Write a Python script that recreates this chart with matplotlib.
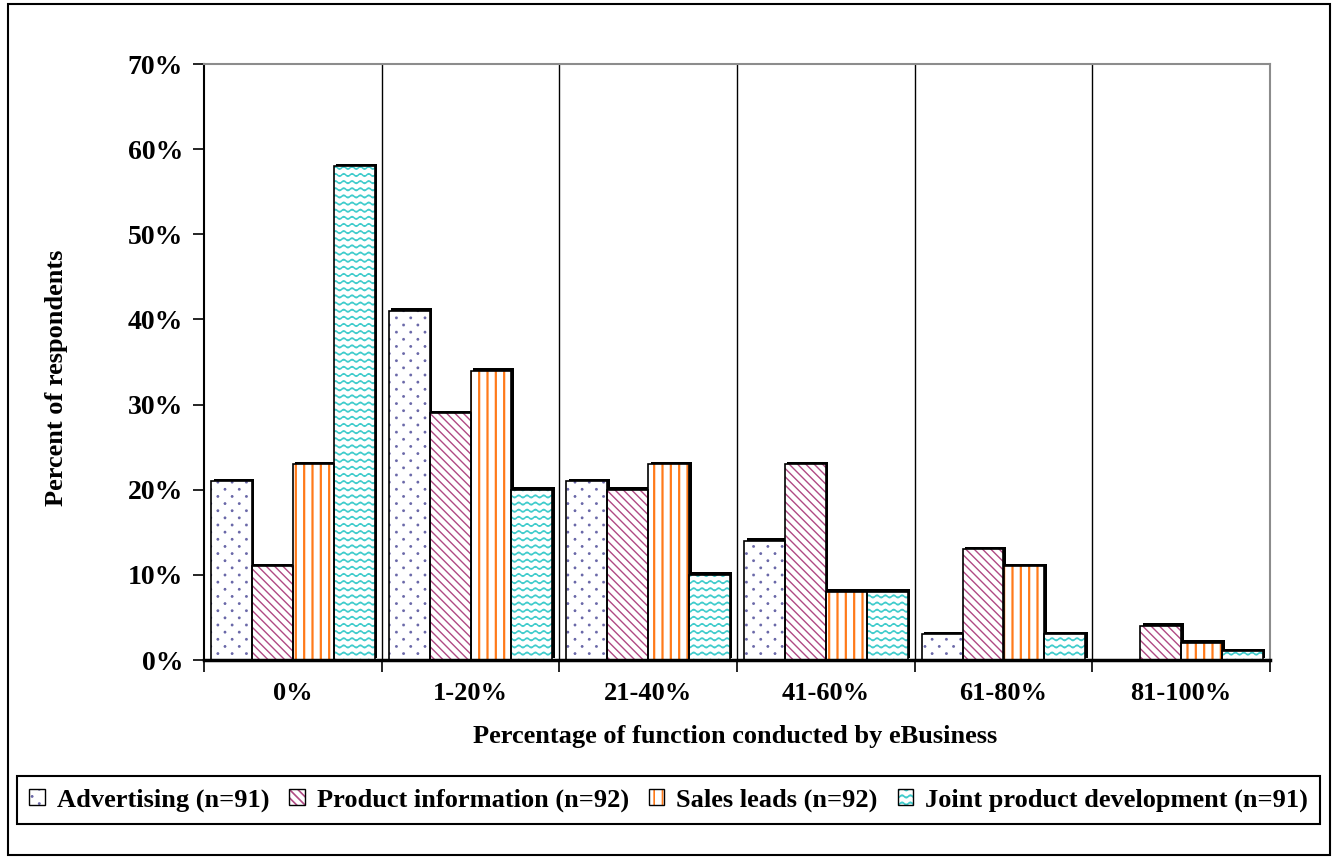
import warnings
import numpy as np
import matplotlib
matplotlib.use('Agg')
import matplotlib.pyplot as plt
from matplotlib import hatch as mhatch
from matplotlib.path import Path
from matplotlib.patches import Patch, Rectangle
from matplotlib.legend_handler import HandlerTuple
import matplotlib.patheffects as pe

warnings.filterwarnings('ignore')

categories = ['0%', '1-20%', '21-40%', '41-60%', '61-80%', '81-100%']
series = ['Advertising (n=91)', 'Product information (n=92)',
          'Sales leads (n=92)', 'Joint product development (n=91)']
advertising = [21, 41, 21, 14, 3, 0]
product_info = [11, 29, 20, 23, 13, 4]
sales_leads = [23, 34, 23, 8, 11, 2]
joint_dev = [58, 20, 10, 8, 3, 1]
yticks = [0, 10, 20, 30, 40, 50, 60, 70]


class Waves(mhatch.HatchPatternBase):
    # wavy horizontal lines, used for the '~' hatch
    def __init__(self, hatch, density):
        self.num_lines = hatch.count('~') * 14
        self.steps = 96
        self.num_vertices = self.num_lines * (self.steps + 1)

    def set_vertices_and_codes(self, vertices, codes):
        t = np.linspace(0, 1, self.steps + 1)
        n = self.steps + 1
        for i in range(self.num_lines):
            y = (i + 0.5) / self.num_lines + 0.013 * np.sin(2 * np.pi * 12 * t)
            vertices[i * n:(i + 1) * n, 0] = t
            vertices[i * n:(i + 1) * n, 1] = y
            codes[i * n:(i + 1) * n] = Path.LINETO
            codes[i * n] = Path.MOVETO


class Dots(mhatch.HatchPatternBase):
    # sparse staggered dots, used for the ':' hatch
    def __init__(self, hatch, density):
        self.rows = hatch.count(':') * 14
        self.cols = 7
        self.sides = 6
        self.num_vertices = self.rows * self.cols * (self.sides + 1) if self.rows else 0

    def set_vertices_and_codes(self, vertices, codes):
        ang = np.linspace(0, 2 * np.pi, self.sides + 1)
        r = 0.006
        k = 0
        n = self.sides + 1
        for i in range(self.rows):
            y = (i + 0.5) / self.rows
            shift = 0.5 if i % 2 else 0.0
            for c in range(self.cols):
                xc = (c + 0.25 + shift) / self.cols
                vertices[k:k + n, 0] = xc + r * np.cos(ang)
                vertices[k:k + n, 1] = y + r * np.sin(ang)
                codes[k:k + n] = Path.LINETO
                codes[k] = Path.MOVETO
                codes[k + n - 1] = Path.CLOSEPOLY
                k += n


mhatch._hatch_types.append(Waves)
mhatch._hatch_types.append(Dots)

plt.rcParams['font.family'] = ['Liberation Serif', 'DejaVu Serif']
plt.rcParams['font.weight'] = 'bold'
plt.rcParams['font.size'] = 19
plt.rcParams['hatch.linewidth'] = 1.2

values = [advertising, product_info, sales_leads, joint_dev]
hatches = [':', '\\\\\\\\', '||', '~']
hatch_colors = ['#6a68a8', '#b04a84', '#ff7a1a', '#40cccc']
hatch_widths = [1.2, 1.0, 1.6, 1.1]

fig = plt.figure(figsize=(13.36, 8.59), dpi=100)
ax = fig.add_axes([204 / 1336, 1 - 660 / 859, 1066 / 1336, 596 / 859])

x = np.arange(len(categories))
w = 0.23
for j, vals in enumerate(values):
    pos = x + (j - 1.5) * w
    hb = ax.bar(pos, vals, w, color='white', edgecolor=hatch_colors[j],
                linewidth=0, hatch=hatches[j], zorder=2)
    for p in hb:
        if hasattr(p, 'set_hatch_linewidth'):
            p.set_hatch_linewidth(hatch_widths[j])
        p.set_path_effects([pe.SimplePatchShadow(offset=(1.8, 1.8), shadow_rgbFace='black',
                                                 alpha=1, hatch=None),
                            pe.Normal()])
    ax.bar(pos, vals, w, fill=False, edgecolor='black', linewidth=1.2, zorder=3)

for b in np.arange(0.5, 5, 1):
    ax.axvline(b, color='black', lw=1, zorder=1)

ax.set_xlim(-0.5, 5.5)
ax.set_ylim(0, 70)
ax.set_yticks(yticks)
ax.set_yticklabels([f'{v}%' for v in yticks], fontsize=20)
ax.set_xticks(np.arange(-0.5, 6, 1))
ax.set_xticklabels([])
ax.set_xticks(x, minor=True)
ax.set_xticklabels(categories, minor=True)
ax.tick_params(axis='x', which='minor', length=0, pad=16)
ax.tick_params(axis='x', which='major', direction='out', length=8.5, width=1.2)
ax.tick_params(axis='y', direction='out', length=8, width=1.2, pad=7)
for s in ['top', 'right']:
    ax.spines[s].set_color('#8c8c8c')
    ax.spines[s].set_linewidth(1.5)
ax.spines['left'].set_linewidth(1.5)
ax.spines['bottom'].set_linewidth(2.5)
ax.spines['bottom'].set_zorder(4)

fig.text(57 / 1336, 1 - 378 / 859, 'Percent of respondents', rotation=90,
         ha='center', va='center')
fig.text(735 / 1336, 1 - 737 / 859, 'Percentage of function conducted by eBusiness',
         ha='center', va='center')

handles = []
for j in range(4):
    handles.append((Patch(facecolor='white', edgecolor=hatch_colors[j], linewidth=0,
                          hatch=hatches[j]),
                    Patch(fill=False, edgecolor='black', linewidth=1)))
leg = fig.legend(handles, series, handler_map={tuple: HandlerTuple(ndivide=1, pad=0)},
                 loc='center', bbox_to_anchor=(17 / 1336, 1 - 826 / 859, 1303 / 1336, 52 / 859),
                 mode='expand', ncol=4, fancybox=False, edgecolor='black', framealpha=1,
                 handlelength=0.6, handleheight=0.6, handletextpad=0.45, borderpad=0.45,
                 borderaxespad=0)
leg.get_frame().set_linewidth(1.5)

fig.patches.append(Rectangle((8 / 1336, 4 / 859), 1322 / 1336, 851 / 859,
                             transform=fig.transFigure, fill=False,
                             edgecolor='black', linewidth=1.5))

fig.savefig('out.png', dpi=100)
